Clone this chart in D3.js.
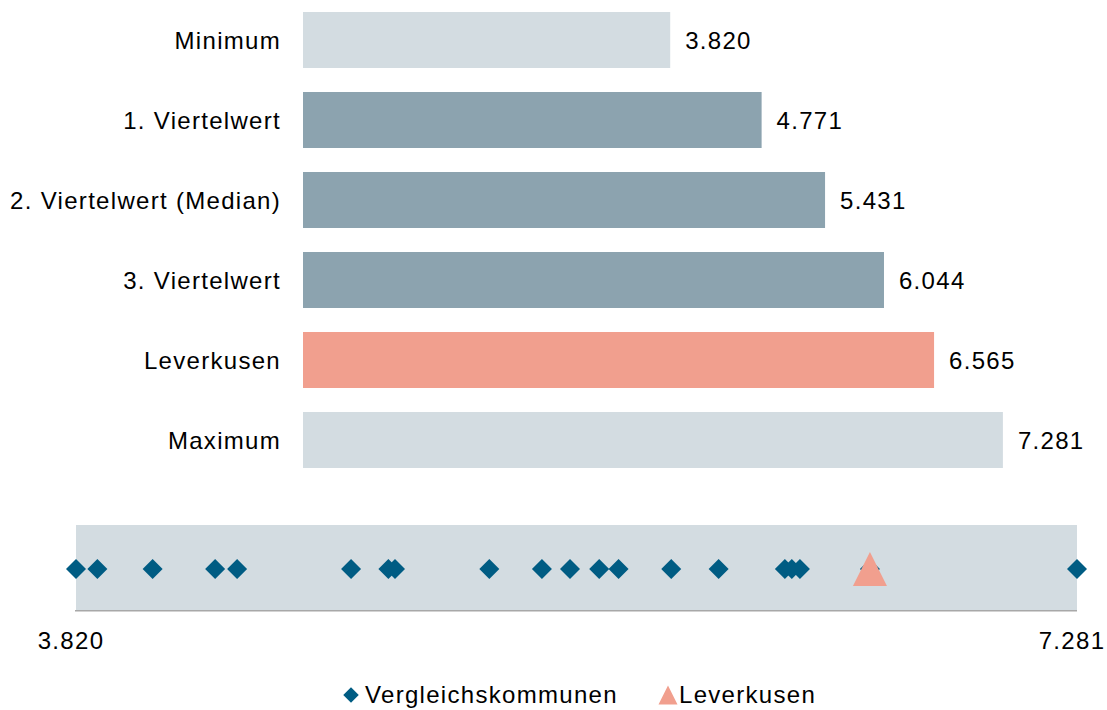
<!DOCTYPE html>
<html>
<head>
<meta charset="utf-8">
<script src="https://cdn.jsdelivr.net/npm/d3@7"></script>
<style>
  body { margin: 0; background: #fff; }
  svg { display: block; font-family: Arial, "Liberation Sans", sans-serif; }
  text { fill: #000; font-size: 24px; letter-spacing: 1.3px; }
</style>
</head>
<body>
<svg id="chart" width="1107" height="710"></svg>
<script>
// bar chart values
const categories = ['Minimum', '1. Viertelwert', '2. Viertelwert (Median)', '3. Viertelwert', 'Leverkusen', 'Maximum'];
const barValues = [3820, 4771, 5431, 6044, 6565, 7281];
const barKinds = ['range', 'quartile', 'quartile', 'quartile', 'city', 'range'];

// strip of comparison municipalities
const kommunenValues = [3820, 3894, 4085, 4301, 4377, 4771, 4900, 4923, 5249, 5431,
  5528, 5629, 5696, 5878, 6042, 6271, 6295, 6323, 6565, 7281];
const leverkusenValue = 6565;
const stripTicks = [3820, 7281];
const legendLabels = ['Vergleichskommunen', 'Leverkusen'];

const colors = {
  range: '#d3dce1',
  quartile: '#8ca3af',
  city: '#f19f8e',
  diamond: '#005c83',
  strip: '#d3dce1'
};

const de = d3.formatLocale({ decimal: ',', thousands: '.', grouping: [3], currency: ['', ' €'] });
const fmt = de.format(',d');

const svg = d3.select('#chart');

// --- bars ---
const x = d3.scaleLinear().domain([0, 8000]).range([303, 1072]);
const y = d3.scaleBand().domain(categories).range([0, 480]).paddingInner(0.3).paddingOuter(0.15);

const bars = svg.append('g');
bars.selectAll('rect')
  .data(categories)
  .join('rect')
  .attr('x', x(0))
  .attr('y', d => y(d))
  .attr('width', (d, i) => x(barValues[i]) - x(0))
  .attr('height', y.bandwidth())
  .attr('fill', (d, i) => colors[barKinds[i]]);

bars.selectAll('text.cat')
  .data(categories)
  .join('text')
  .attr('class', 'cat')
  .attr('x', 281)
  .attr('y', d => y(d) + y.bandwidth() / 2)
  .attr('dy', '0.37em')
  .attr('text-anchor', 'end')
  .text(d => d);

bars.selectAll('text.val')
  .data(barValues)
  .join('text')
  .attr('class', 'val')
  .attr('x', d => x(d) + 15)
  .attr('y', (d, i) => y(categories[i]) + y.bandwidth() / 2)
  .attr('dy', '0.37em')
  .text(d => fmt(d));

// --- strip ---
const sx = d3.scaleLinear().domain(d3.extent(kommunenValues)).range([76, 1077]);
const stripTop = 525, stripBottom = 610, stripMid = 569;

const strip = svg.append('g');
strip.append('rect')
  .attr('x', sx.range()[0])
  .attr('y', stripTop)
  .attr('width', sx.range()[1] - sx.range()[0])
  .attr('height', stripBottom - stripTop)
  .attr('fill', colors.strip);
strip.append('line')
  .attr('x1', sx.range()[0] - 1)
  .attr('x2', sx.range()[1])
  .attr('y1', stripBottom + 0.75)
  .attr('y2', stripBottom + 0.75)
  .attr('stroke', '#a8a8a8')
  .attr('stroke-width', 1.5);

const diamond = d3.symbol().type(d3.symbolSquare).size(200);
strip.selectAll('path.k')
  .data(kommunenValues)
  .join('path')
  .attr('class', 'k')
  .attr('d', diamond)
  .attr('transform', d => `translate(${sx(d)},${stripMid}) rotate(45)`)
  .attr('fill', colors.diamond);

// isosceles triangle, height about equal to base
const isoTriangle = {
  draw(context, size) {
    const w = Math.sqrt(size);
    context.moveTo(0, -w / 2);
    context.lineTo(w / 2, w / 2);
    context.lineTo(-w / 2, w / 2);
    context.closePath();
  }
};
strip.append('path')
  .attr('d', d3.symbol().type(isoTriangle).size(34 * 34)())
  .attr('transform', `translate(${sx(leverkusenValue)},${stripMid})`)
  .attr('fill', colors.city);

strip.selectAll('text.tick')
  .data(stripTicks)
  .join('text')
  .attr('class', 'tick')
  .attr('x', d => sx(d) - 5)
  .attr('y', 649)
  .attr('text-anchor', 'middle')
  .text(d => fmt(d));

// --- legend ---
const legend = svg.append('g');
legend.append('path')
  .attr('d', d3.symbol().type(d3.symbolSquare).size(120)())
  .attr('transform', 'translate(351,695) rotate(45)')
  .attr('fill', colors.diamond);
legend.append('text')
  .attr('x', 365)
  .attr('y', 703)
  .text(legendLabels[0]);
legend.append('path')
  .attr('d', d3.symbol().type(isoTriangle).size(19 * 19)())
  .attr('transform', 'translate(668,695)')
  .attr('fill', colors.city);
legend.append('text')
  .attr('x', 679)
  .attr('y', 703)
  .text(legendLabels[1]);
</script>
</body>
</html>
